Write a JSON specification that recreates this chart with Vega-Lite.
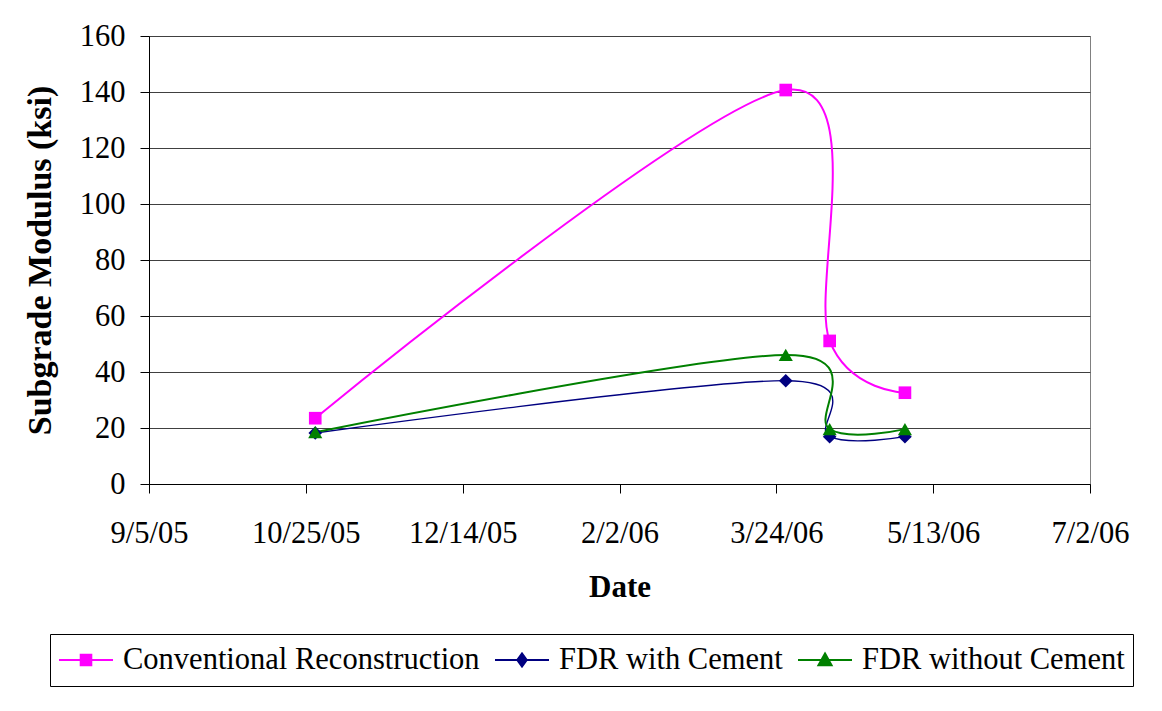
{
  "$schema": "https://vega.github.io/schema/vega-lite/v6.json",
  "width": 941,
  "height": 448,
  "autosize": {"type": "none"},
  "padding": {"left": 149, "top": 36, "right": 72, "bottom": 227},
  "background": "white",
  "config": {
    "font": "Liberation Serif",
    "view": {"stroke": "#808080", "strokeWidth": 1}
  },
  "data": {
    "values": [
      {"series": "Conventional Reconstruction", "date": "2005-10-28T00:00:00", "value": 23.5},
      {"series": "Conventional Reconstruction", "date": "2006-03-27T00:00:00", "value": 140.7},
      {"series": "Conventional Reconstruction", "date": "2006-04-10T00:00:00", "value": 51.1},
      {"series": "Conventional Reconstruction", "date": "2006-05-04T00:00:00", "value": 32.6},
      {"series": "FDR with Cement", "date": "2005-10-28T00:00:00", "value": 18.2},
      {"series": "FDR with Cement", "date": "2006-03-27T00:00:00", "value": 36.9},
      {"series": "FDR with Cement", "date": "2006-04-10T00:00:00", "value": 16.9},
      {"series": "FDR with Cement", "date": "2006-05-04T00:00:00", "value": 16.9},
      {"series": "FDR without Cement", "date": "2005-10-28T00:00:00", "value": 18.5},
      {"series": "FDR without Cement", "date": "2006-03-27T00:00:00", "value": 46.1},
      {"series": "FDR without Cement", "date": "2006-04-10T00:00:00", "value": 19.6},
      {"series": "FDR without Cement", "date": "2006-05-04T00:00:00", "value": 19.6}
    ]
  },
  "encoding": {
    "x": {
      "field": "date",
      "type": "temporal",
      "scale": {"domain": [{"year": 2005, "month": 9, "date": 5}, {"year": 2006, "month": 7, "date": 2}]},
      "axis": {
        "values": [
          {"year": 2005, "month": 9, "date": 5},
          {"year": 2005, "month": 10, "date": 25},
          {"year": 2005, "month": 12, "date": 14},
          {"year": 2006, "month": 2, "date": 2},
          {"year": 2006, "month": 3, "date": 24},
          {"year": 2006, "month": 5, "date": 13},
          {"year": 2006, "month": 7, "date": 2}
        ],
        "format": "%-m/%-d/%y",
        "title": "Date",
        "grid": false,
        "tickSize": 9,
        "tickColor": "black",
        "domainColor": "black",
        "labelFontSize": 30.5,
        "labelColor": "black",
        "labelPadding": 25,
        "labelFlush": false,
        "labelOverlap": false,
        "titleFontSize": 31,
        "titleFontWeight": "bold",
        "titleColor": "black",
        "titlePadding": 24
      }
    },
    "y": {
      "field": "value",
      "type": "quantitative",
      "scale": {"domain": [0, 160]},
      "axis": {
        "values": [0, 20, 40, 60, 80, 100, 120, 140, 160],
        "title": "Subgrade Modulus (ksi)",
        "grid": true,
        "gridColor": "#404040",
        "gridWidth": 1,
        "tickSize": 9,
        "tickColor": "black",
        "domainColor": "black",
        "labelFontSize": 30.5,
        "labelColor": "black",
        "labelPadding": 15,
        "titleFontSize": 34,
        "titleFontWeight": "bold",
        "titleColor": "black",
        "titlePadding": 22
      }
    },
    "color": {
      "field": "series",
      "type": "nominal",
      "scale": {
        "domain": ["Conventional Reconstruction", "FDR with Cement", "FDR without Cement"],
        "range": ["#FF00FF", "#000080", "#008000"]
      },
      "legend": {
        "title": null,
        "orient": "none",
        "legendX": -99,
        "legendY": 598,
        "direction": "horizontal",
        "strokeColor": "black",
        "padding": 8,
        "labelFontSize": 30.5,
        "labelColor": "black",
        "labelLimit": 0,
        "labelOffset": 9,
        "labelBaseline": "middle",
        "columnPadding": 14,
        "symbolSize": 2916,
        "symbolStrokeWidth": 1.8,
        "clipHeight": 36,
        "encode": {
          "symbols": {
            "update": {
              "shape": {"signal": "datum.value === 'Conventional Reconstruction' ? 'M-1,0H1M-0.2,-0.2H0.2V0.2H-0.2Z' : (datum.value === 'FDR with Cement' ? 'M-1,0H1M0,-0.25L0.18,0L0,0.25L-0.18,0Z' : 'M-1,0H1M0,-0.25L0.25,0.2H-0.25Z')"},
              "size": {"value": 2916},
              "fill": {"scale": "color", "field": "value"},
              "stroke": {"scale": "color", "field": "value"},
              "strokeWidth": {"value": 1.8},
              "opacity": {"value": 1}
            }
          }
        }
      }
    }
  },
  "layer": [
    {
      "transform": [{"filter": "datum.series === 'Conventional Reconstruction'"}],
      "mark": {"type": "line", "interpolate": "cardinal", "strokeWidth": 2}
    },
    {
      "transform": [{"filter": "datum.series === 'FDR with Cement'"}],
      "mark": {"type": "line", "interpolate": "cardinal", "strokeWidth": 1.4}
    },
    {
      "transform": [{"filter": "datum.series === 'FDR without Cement'"}],
      "mark": {"type": "line", "interpolate": "cardinal", "strokeWidth": 2}
    },
    {
      "transform": [{"filter": "datum.series === 'Conventional Reconstruction'"}],
      "mark": {"type": "point", "filled": true, "opacity": 1, "shape": "square", "size": 160}
    },
    {
      "transform": [{"filter": "datum.series === 'FDR with Cement'"}],
      "mark": {"type": "point", "filled": true, "opacity": 1, "shape": "diamond", "size": 185}
    },
    {
      "transform": [{"filter": "datum.series === 'FDR without Cement'"}],
      "mark": {"type": "point", "filled": true, "opacity": 1, "shape": "triangle-up", "size": 200}
    }
  ]
}
